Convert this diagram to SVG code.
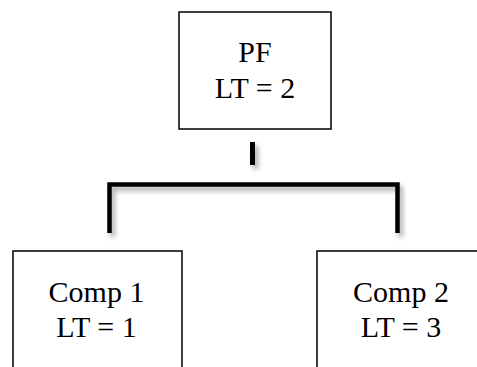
<svg xmlns="http://www.w3.org/2000/svg" width="477" height="367" viewBox="0 0 477 367">
  <defs>
    <filter id="soft-shadow" x="-20%" y="-20%" width="140%" height="160%">
      <feDropShadow dx="3" dy="4" stdDeviation="2.5" flood-color="#000" flood-opacity="0.35"/>
    </filter>
  </defs>
  <style>
    .box { fill: #ffffff; stroke: #000000; stroke-width: 1.5; }
    .label { font-family: "Liberation Serif", "Times New Roman", serif; font-size: 30px; fill: #000000; text-anchor: middle; }
    .link { fill: none; stroke: #000000; stroke-linecap: butt; stroke-linejoin: miter; }
  </style>
  <rect width="477" height="367" fill="#ffffff"/>

  <!-- connectors: stub under the parent and the bracket to the children -->
  <g id="connectors" filter="url(#soft-shadow)">
    <line class="link" x1="252.5" y1="142" x2="252.5" y2="165" stroke-width="5"/>
    <path class="link" d="M109.5 233 V184.5 H397.5 V233" stroke-width="4.5"/>
  </g>

  <g id="node-pf">
    <rect class="box" x="179" y="12" width="152" height="117"/>
    <text class="label" x="255" y="62">PF</text>
    <text class="label" x="255" y="98">LT = 2</text>
  </g>

  <g id="node-comp1">
    <rect class="box" x="13" y="251" width="169" height="130"/>
    <text class="label" x="96.5" y="301.5">Comp 1</text>
    <text class="label" x="96.5" y="337">LT = 1</text>
  </g>

  <g id="node-comp2">
    <rect class="box" x="317" y="251" width="169" height="130"/>
    <text class="label" x="401" y="301.5">Comp 2</text>
    <text class="label" x="401" y="337">LT = 3</text>
  </g>
</svg>
